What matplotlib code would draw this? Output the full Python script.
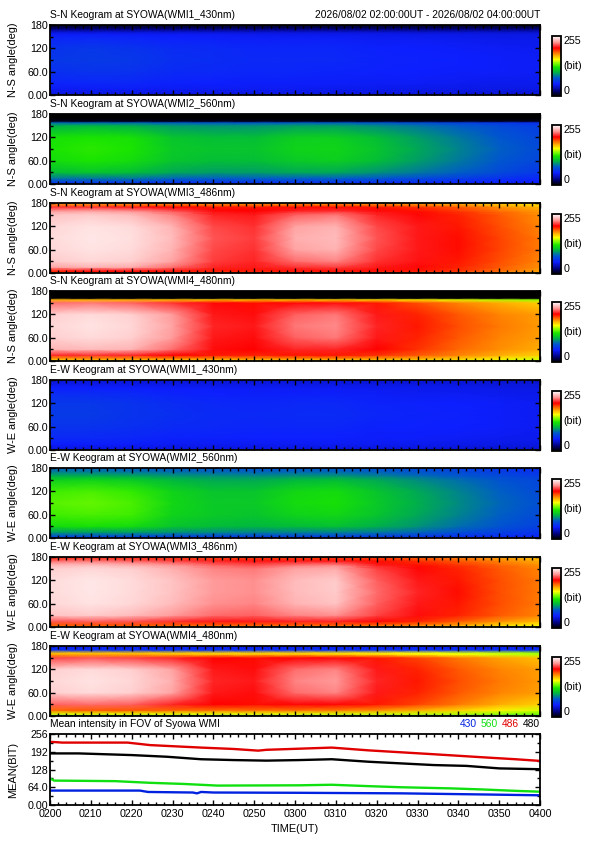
import numpy as np
import matplotlib
matplotlib.use("Agg")
import matplotlib.pyplot as plt
from matplotlib.colors import LinearSegmentedColormap
from matplotlib.ticker import MultipleLocator, FixedLocator

plt.rcParams['font.family'] = ['Liberation Sans', 'DejaVu Sans']

# ---------------- data ----------------
titles = [
    "S-N Keogram at SYOWA(WMI1_430nm)",
    "S-N Keogram at SYOWA(WMI2_560nm)",
    "S-N Keogram at SYOWA(WMI3_486nm)",
    "S-N Keogram at SYOWA(WMI4_480nm)",
    "E-W Keogram at SYOWA(WMI1_430nm)",
    "E-W Keogram at SYOWA(WMI2_560nm)",
    "E-W Keogram at SYOWA(WMI3_486nm)",
    "E-W Keogram at SYOWA(WMI4_480nm)",
]
ylabels = ["N-S angle(deg)"] * 4 + ["W-E angle(deg)"] * 4
date_text = "2026/08/02 02:00:00UT - 2026/08/02 04:00:00UT"

# keogram grid: minutes after 02:00 (columns) x angle in deg (rows)
kg_time = [0, 10, 20, 30, 40, 50, 60, 70, 80, 90, 100, 110, 120]
kg_angle = [0, 5, 15, 30, 60, 90, 120, 150, 158, 162, 170, 180]

sn_430 = [
    [40, 40, 40, 40, 40, 40, 40, 40, 40, 40, 40, 38, 38],
    [45, 45, 45, 45, 45, 45, 45, 44, 44, 44, 43, 42, 42],
    [48, 49, 49, 48, 48, 48, 48, 47, 47, 46, 46, 45, 45],
    [53, 54, 54, 52, 51, 50, 50, 50, 49, 49, 48, 47, 47],
    [58, 60, 59, 56, 55, 54, 54, 53, 52, 51, 50, 50, 49],
    [62, 63, 62, 58, 57, 55, 55, 55, 53, 52, 51, 50, 49],
    [60, 62, 60, 57, 56, 54, 54, 54, 52, 51, 50, 49, 48],
    [53, 54, 53, 51, 50, 49, 49, 49, 48, 48, 47, 46, 46],
    [48, 48, 48, 47, 47, 46, 46, 46, 46, 45, 45, 44, 44],
    [42, 42, 42, 42, 41, 41, 41, 41, 41, 40, 40, 40, 40],
    [22, 22, 22, 22, 22, 22, 22, 22, 22, 22, 22, 22, 22],
    [4, 4, 4, 4, 4, 4, 4, 4, 4, 4, 4, 4, 4],
]
sn_560 = [
    [55, 55, 55, 55, 55, 55, 55, 55, 55, 52, 50, 48, 45],
    [65, 65, 65, 62, 62, 62, 62, 62, 60, 58, 55, 52, 50],
    [85, 85, 85, 80, 78, 78, 78, 78, 75, 70, 65, 60, 55],
    [105, 108, 105, 98, 95, 95, 98, 98, 92, 85, 78, 70, 62],
    [118, 122, 118, 108, 105, 105, 110, 112, 105, 95, 85, 75, 68],
    [122, 125, 122, 110, 108, 108, 114, 115, 108, 98, 88, 78, 70],
    [120, 122, 120, 108, 105, 105, 112, 112, 105, 95, 85, 75, 68],
    [100, 102, 100, 94, 92, 92, 95, 95, 90, 84, 77, 70, 64],
    [80, 80, 80, 77, 75, 75, 77, 77, 74, 70, 66, 62, 58],
    [5, 5, 5, 5, 5, 5, 5, 5, 5, 5, 5, 5, 5],
    [0, 0, 0, 0, 0, 0, 0, 0, 0, 0, 0, 0, 0],
    [0, 0, 0, 0, 0, 0, 0, 0, 0, 0, 0, 0, 0],
]
sn_486 = [
    [178, 180, 180, 180, 180, 182, 184, 184, 184, 182, 178, 170, 162],
    [200, 204, 204, 202, 200, 200, 202, 202, 202, 200, 195, 185, 175],
    [232, 236, 234, 222, 210, 208, 212, 214, 208, 205, 198, 188, 178],
    [242, 245, 243, 232, 214, 210, 222, 226, 212, 207, 200, 190, 180],
    [245, 248, 246, 236, 216, 212, 232, 236, 216, 208, 202, 192, 182],
    [246, 249, 247, 238, 218, 214, 235, 238, 218, 208, 202, 192, 182],
    [245, 248, 246, 236, 216, 212, 232, 236, 216, 208, 200, 190, 180],
    [240, 242, 238, 226, 210, 208, 220, 224, 210, 205, 198, 188, 178],
    [232, 234, 230, 220, 207, 205, 212, 214, 207, 202, 195, 185, 176],
    [226, 228, 224, 215, 205, 204, 208, 210, 205, 200, 192, 182, 174],
    [212, 212, 208, 204, 200, 200, 202, 202, 200, 195, 188, 178, 170],
    [170, 170, 170, 170, 170, 170, 170, 170, 170, 168, 165, 162, 158],
]
sn_480 = [
    [150, 152, 152, 152, 152, 152, 152, 150, 150, 148, 145, 140, 135],
    [172, 175, 175, 175, 175, 175, 175, 175, 172, 170, 165, 158, 150],
    [210, 212, 210, 204, 200, 198, 200, 200, 195, 188, 180, 172, 165],
    [236, 238, 236, 222, 206, 204, 210, 210, 204, 195, 185, 178, 172],
    [243, 246, 243, 230, 208, 206, 220, 224, 208, 198, 188, 180, 175],
    [245, 248, 245, 232, 210, 208, 224, 227, 210, 200, 190, 182, 176],
    [243, 246, 243, 230, 208, 206, 220, 224, 208, 198, 188, 180, 175],
    [222, 224, 220, 212, 205, 202, 205, 206, 200, 190, 180, 172, 165],
    [170, 170, 170, 168, 166, 166, 166, 165, 162, 158, 152, 145, 140],
    [0, 0, 0, 0, 0, 0, 0, 0, 0, 0, 0, 0, 0],
    [0, 0, 0, 0, 0, 0, 0, 0, 0, 0, 0, 0, 0],
    [0, 0, 0, 0, 0, 0, 0, 0, 0, 0, 0, 0, 0],
]
ew_430 = [
    [40, 40, 40, 40, 40, 40, 40, 40, 40, 40, 40, 38, 38],
    [45, 45, 45, 45, 45, 45, 45, 44, 44, 44, 43, 42, 42],
    [50, 50, 50, 48, 48, 48, 48, 48, 48, 47, 46, 45, 45],
    [55, 55, 54, 52, 52, 51, 51, 51, 50, 50, 49, 48, 47],
    [60, 60, 58, 56, 55, 54, 54, 54, 52, 52, 51, 50, 48],
    [63, 63, 60, 58, 56, 55, 56, 56, 54, 53, 52, 50, 48],
    [62, 62, 60, 57, 55, 54, 55, 55, 53, 52, 51, 50, 48],
    [55, 55, 54, 52, 51, 50, 50, 50, 49, 48, 48, 47, 46],
    [52, 52, 51, 50, 50, 49, 49, 49, 48, 48, 47, 46, 45],
    [50, 50, 49, 49, 48, 48, 48, 48, 47, 47, 46, 45, 44],
    [46, 46, 46, 45, 45, 45, 45, 45, 44, 44, 44, 43, 43],
    [42, 42, 42, 42, 42, 42, 42, 42, 41, 41, 41, 40, 40],
]
ew_560 = [
    [62, 62, 62, 60, 60, 60, 60, 60, 58, 56, 54, 52, 50],
    [72, 72, 72, 70, 68, 68, 68, 68, 66, 64, 60, 58, 55],
    [95, 95, 95, 92, 90, 88, 88, 88, 85, 80, 72, 66, 60],
    [118, 120, 118, 108, 104, 102, 104, 106, 100, 92, 82, 74, 66],
    [128, 130, 128, 114, 110, 108, 114, 116, 108, 98, 88, 78, 70],
    [132, 134, 130, 116, 110, 110, 118, 120, 110, 100, 90, 80, 72],
    [128, 130, 126, 114, 108, 108, 116, 118, 108, 98, 88, 78, 70],
    [112, 114, 110, 102, 98, 98, 102, 104, 98, 90, 82, 74, 68],
    [102, 102, 100, 95, 93, 92, 94, 95, 90, 84, 77, 71, 65],
    [97, 97, 95, 91, 89, 88, 90, 90, 86, 80, 75, 69, 63],
    [87, 87, 85, 83, 81, 80, 81, 81, 79, 75, 70, 65, 60],
    [78, 78, 76, 75, 74, 74, 74, 74, 72, 70, 66, 62, 58],
]
ew_486 = [
    [165, 165, 165, 165, 165, 165, 165, 165, 162, 160, 155, 148, 142],
    [188, 190, 190, 188, 188, 188, 188, 188, 186, 182, 175, 165, 158],
    [218, 220, 218, 212, 208, 208, 210, 210, 205, 198, 188, 178, 170],
    [240, 242, 238, 230, 222, 220, 226, 228, 215, 206, 198, 188, 180],
    [245, 248, 245, 238, 228, 226, 236, 240, 220, 208, 200, 190, 182],
    [246, 249, 246, 240, 230, 228, 238, 242, 222, 210, 202, 190, 182],
    [246, 249, 246, 240, 230, 228, 238, 242, 220, 208, 200, 190, 182],
    [243, 245, 243, 235, 226, 224, 232, 234, 215, 205, 198, 188, 180],
    [238, 240, 236, 230, 222, 218, 225, 228, 210, 202, 195, 186, 178],
    [234, 236, 232, 226, 218, 215, 220, 222, 207, 200, 193, 184, 176],
    [222, 224, 220, 215, 210, 207, 208, 208, 202, 195, 188, 180, 172],
    [198, 198, 198, 195, 192, 192, 192, 192, 190, 185, 180, 174, 168],
]
ew_480 = [
    [80, 80, 80, 80, 80, 80, 80, 80, 80, 78, 75, 72, 70],
    [150, 152, 152, 152, 152, 152, 152, 150, 150, 148, 145, 140, 135],
    [185, 188, 188, 186, 184, 184, 184, 182, 178, 172, 165, 158, 150],
    [220, 222, 220, 210, 204, 202, 205, 205, 200, 192, 182, 172, 165],
    [243, 246, 243, 232, 208, 206, 222, 226, 208, 198, 188, 180, 175],
    [245, 248, 245, 235, 210, 208, 226, 230, 210, 200, 190, 182, 176],
    [243, 246, 243, 232, 208, 206, 222, 226, 208, 198, 188, 180, 175],
    [215, 218, 215, 210, 204, 202, 204, 205, 200, 192, 182, 174, 168],
    [175, 175, 175, 172, 170, 170, 170, 168, 165, 160, 155, 150, 145],
    [168, 168, 168, 166, 165, 165, 165, 162, 160, 156, 152, 148, 142],
    [60, 60, 60, 60, 60, 60, 60, 60, 60, 60, 60, 60, 60],
    [48, 48, 48, 48, 48, 48, 48, 48, 48, 48, 48, 48, 48],
]
keograms = [sn_430, sn_560, sn_486, sn_480, ew_430, ew_560, ew_486, ew_480]

# mean intensity lines (minutes after 02:00, value in bit)
t_430 = [0, 22, 24, 35, 36, 37, 40, 61, 86, 106, 120]
v_430 = [52, 52, 47, 45, 42, 47, 45, 44, 42, 38, 35]
t_560 = [0, 1, 16, 24.5, 32.6, 41, 61, 69, 78, 86, 98, 106, 114, 120]
v_560 = [96, 88, 86, 80, 76, 70, 71, 73, 68, 64, 60, 56, 51, 48]
t_486 = [0, 3, 19, 24.5, 37, 45, 48, 51, 53, 57, 61, 69, 78, 94, 106, 114, 120]
v_486 = [228, 225, 225, 216, 207, 202, 199, 196, 199, 201, 203, 207, 197, 183, 172, 165, 159]
t_480 = [0, 7, 20, 28.6, 37, 45, 53, 61, 69, 78, 86, 94, 102, 110, 120]
v_480 = [186, 186, 180, 174, 165, 162, 160, 162, 165, 156, 150, 144, 141, 132, 129]

line_names = ["430", "560", "486", "480"]
line_colors = ["#0022e0", "#10e010", "#e00000", "#000000"]

time_ticks = [0, 10, 20, 30, 40, 50, 60, 70, 80, 90, 100, 110, 120]
time_labels = ["0200", "0210", "0220", "0230", "0240", "0250", "0300",
               "0310", "0320", "0330", "0340", "0350", "0400"]
angle_ticks = [0, 60, 120, 180]
angle_labels = ["0.00", "60.0", "120", "180"]
mean_ticks = [0, 64, 128, 192, 256]
mean_labels = ["0.00", "64.0", "128", "192", "256"]

# ---------------- style ----------------
cmap = LinearSegmentedColormap.from_list("idl39w", [
    (0.00, (0.0, 0.0, 0.0)),
    (0.08, (0.0, 0.0, 0.45)),
    (0.20, (0.05, 0.12, 1.0)),
    (0.30, (0.0, 0.35, 0.80)),
    (0.40, (0.0, 0.72, 0.25)),
    (0.48, (0.10, 0.90, 0.0)),
    (0.55, (0.55, 1.0, 0.0)),
    (0.61, (1.0, 1.0, 0.0)),
    (0.70, (1.0, 0.55, 0.0)),
    (0.80, (1.0, 0.0, 0.0)),
    (0.90, (1.0, 0.60, 0.60)),
    (1.00, (1.0, 1.0, 1.0)),
])

W, H = 595, 842
fig = plt.figure(figsize=(W / 100, H / 100), dpi=100)
fig.patch.set_facecolor("white")

FS = 7.4


def rect(x0, y0, x1, y1):
    return [x0 / W, 1 - y1 / H, (x1 - x0) / W, (y1 - y0) / H]


def style_axes(ax):
    for s in ax.spines.values():
        s.set_linewidth(1.3)
    ax.tick_params(which="both", direction="in", top=True, right=True,
                   labelsize=FS + 0.3, pad=1.5, width=1.0)
    ax.tick_params(which="major", length=3.5)
    ax.tick_params(which="minor", length=2)


LEFT, RIGHT = 50, 540
tops = [25, 114, 203, 291, 380, 468, 557, 646]
PH = 70

for i in range(8):
    top = tops[i]
    ax = fig.add_axes(rect(LEFT, top, RIGHT, top + PH))
    Z = np.array(keograms[i], dtype=float)
    mesh = ax.pcolormesh(kg_time, kg_angle, Z, shading="gouraud",
                         cmap=cmap, vmin=0, vmax=255, rasterized=True)
    ax.set_xlim(0, 120)
    ax.set_ylim(0, 180)
    ax.xaxis.set_major_locator(FixedLocator(time_ticks))
    ax.xaxis.set_minor_locator(MultipleLocator(2))
    ax.set_xticklabels([])
    ax.yaxis.set_major_locator(FixedLocator(angle_ticks))
    ax.set_yticklabels(angle_labels)
    ax.yaxis.set_minor_locator(MultipleLocator(30))
    style_axes(ax)
    ax.set_axisbelow(False)

    fig.text(LEFT / W, 1 - (top - 10) / H, titles[i], fontsize=FS,
             ha="left", va="center")
    if i == 0:
        fig.text(RIGHT / W, 1 - (top - 10) / H, date_text, fontsize=FS,
                 ha="right", va="center")
    fig.text(13 / W, 1 - (top + PH / 2) / H, ylabels[i], fontsize=FS + 0.5,
             rotation=90, ha="center", va="center")

    cax = fig.add_axes(rect(552, top + 11, 561, top + 71))
    cb = fig.colorbar(mesh, cax=cax)
    cb.set_ticks([])
    cb.outline.set_linewidth(1.3)
    cax.text(1.25, 1.0, "255", transform=cax.transAxes, fontsize=FS + 0.3,
             ha="left", va="top")
    cax.text(1.25, 0.5, "(bit)", transform=cax.transAxes, fontsize=FS + 0.3,
             ha="left", va="center")
    cax.text(1.25, 0.0, "0", transform=cax.transAxes, fontsize=FS + 0.3,
             ha="left", va="bottom")

# mean intensity panel
axm = fig.add_axes(rect(LEFT, 734, RIGHT, 805))
series = [(t_430, v_430), (t_560, v_560), (t_486, v_486), (t_480, v_480)]
for (tt, vv), c in zip(series, line_colors):
    axm.plot(tt, vv, color=c, lw=1.7, solid_joinstyle="round")
axm.set_xlim(0, 120)
axm.set_ylim(0, 256)
axm.xaxis.set_major_locator(FixedLocator(time_ticks))
axm.set_xticklabels(time_labels)
axm.xaxis.set_minor_locator(MultipleLocator(2))
axm.yaxis.set_major_locator(FixedLocator(mean_ticks))
axm.set_yticklabels(mean_labels)
axm.yaxis.set_minor_locator(MultipleLocator(32))
style_axes(axm)
axm.tick_params(axis="x", pad=3)

fig.text(LEFT / W, 1 - 724 / H, "Mean intensity in FOV of Syowa WMI",
         fontsize=FS, ha="left", va="center")
fig.text(13 / W, 1 - 770 / H, "MEAN(BIT)", fontsize=FS + 0.5, rotation=90,
         ha="center", va="center")
fig.text(295 / W, 1 - 829 / H, "TIME(UT)", fontsize=FS + 0.5,
         ha="center", va="center")

# coloured legend words, right aligned
renderer = fig.canvas.get_renderer()
x_right = RIGHT / W
for name, c in reversed(list(zip(line_names, line_colors))):
    t = fig.text(x_right, 1 - 724 / H, name, color=c, fontsize=FS,
                 ha="right", va="center")
    bb = t.get_window_extent(renderer=renderer)
    x_right -= (bb.width + 4) / W

fig.savefig("out.png", dpi=100)
